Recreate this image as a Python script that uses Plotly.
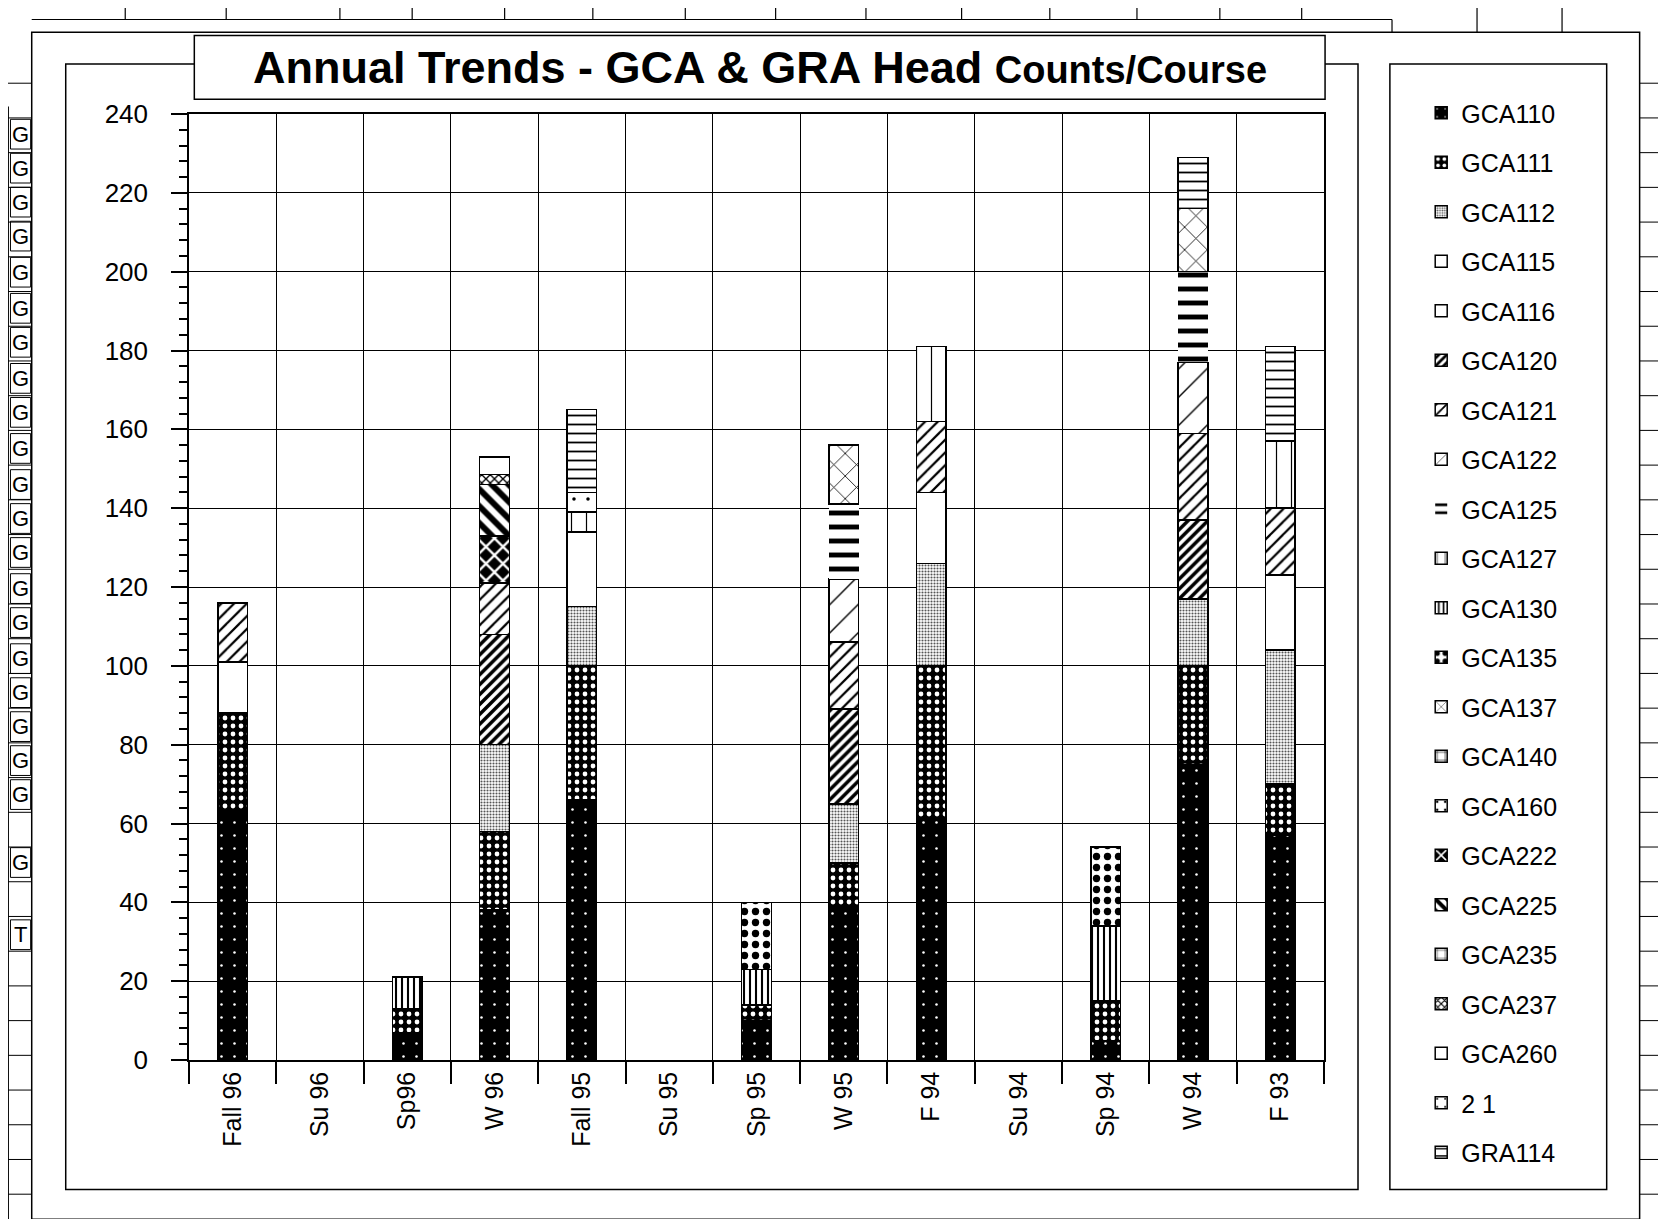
import plotly.graph_objects as go

# ---------------- DATA ----------------
categories = ["Fall 96", "Su 96", "Sp96", "W 96", "Fall 95", "Su 95", "Sp 95",
              "W 95", "F 94", "Su 94", "Sp 94", "W 94", "F 93"]
y_ticks = [0, 20, 40, 60, 80, 100, 120, 140, 160, 180, 200, 220, 240]

N = None
GCA110 = [63, N, 7, 38, 66, N, 10, 39, 61, N, 5, 75, 57]
GCA111 = [25, N, 6, 20, 34, N, 4, 11, 39, N, 10, 25, 13]
GCA112 = [N, N, N, 22, 15, N, N, 15, 26, N, N, 17, 34]
GCA115 = [N, N, N, N, N, N, N, N, N, N, N, N, N]
GCA116 = [13, N, N, N, 19, N, N, N, 18, N, N, N, 19]
GCA120 = [N, N, N, 28, N, N, N, 24, N, N, N, 20, N]
GCA121 = [15, N, N, 13, N, N, N, 17, 18, N, N, 22, 17]
GCA122 = [N, N, N, N, N, N, N, 16, N, N, N, 18, N]
GCA125 = [N, N, N, N, N, N, N, 19, N, N, N, 23, N]
GCA127 = [N, N, N, N, 5, N, N, N, 19, N, N, N, 17]
GCA130 = [N, N, 8, N, N, N, 9, N, N, N, 19, N, N]
GCA135 = [N, N, N, N, N, N, 17, N, N, N, 20, N, N]
GCA137 = [N, N, N, N, N, N, N, 15, N, N, N, 16, N]
GCA140 = [N, N, N, N, N, N, N, N, N, N, N, N, N]
GCA160 = [N, N, N, N, N, N, N, N, N, N, N, N, N]
GCA222 = [N, N, N, 12, N, N, N, N, N, N, N, N, N]
GCA225 = [N, N, N, 13, N, N, N, N, N, N, N, N, N]
GCA235 = [N, N, N, N, N, N, N, N, N, N, N, N, N]
GCA237 = [N, N, N, 2.5, N, N, N, N, N, N, N, N, N]
GCA260 = [N, N, N, 4.5, N, N, N, N, N, N, N, N, N]
C21 = [N, N, N, N, 5, N, N, N, N, N, N, N, N]
GRA114 = [N, N, N, N, 21, N, N, N, N, N, N, 13, 24]

series = [("GCA110", GCA110), ("GCA111", GCA111), ("GCA112", GCA112),
          ("GCA115", GCA115), ("GCA116", GCA116), ("GCA120", GCA120),
          ("GCA121", GCA121), ("GCA122", GCA122), ("GCA125", GCA125),
          ("GCA127", GCA127), ("GCA130", GCA130), ("GCA135", GCA135),
          ("GCA137", GCA137), ("GCA140", GCA140), ("GCA160", GCA160),
          ("GCA222", GCA222), ("GCA225", GCA225), ("GCA235", GCA235),
          ("GCA237", GCA237), ("GCA260", GCA260), ("2 1", C21),
          ("GRA114", GRA114)]

# ---------------- STYLES ----------------
# (shape, bgcolor, fgcolor, size, solidity, outline width)
styles = {
    "GCA110": (".", "black", "white", 13, 0.03, 1.5),
    "GCA111": (".", "black", "white", 8, 0.28, 1.5),
    "GCA112": (".", "white", "#555555", 3, 0.4, 1.5),
    "GCA115": ("", "white", "black", 8, 0.2, 1.5),
    "GCA116": ("", "white", "black", 8, 0.2, 1.5),
    "GCA120": ("/", "white", "black", 7, 0.5, 1.5),
    "GCA121": ("/", "white", "black", 9, 0.25, 1.5),
    "GCA122": ("/", "white", "black", 20, 0.07, 1.5),
    "GCA125": ("-", "white", "black", 14, 0.35, 0),
    "GCA127": ("|", "white", "black", 15, 0.08, 1.5),
    "GCA130": ("|", "white", "black", 6, 0.35, 1.5),
    "GCA135": (".", "white", "black", 11, 0.35, 1.5),
    "GCA137": ("x", "white", "black", 16, 0.1, 1.5),
    "GCA140": ("+", "white", "black", 10, 0.15, 1.5),
    "GCA160": (".", "white", "black", 10, 0.08, 1.5),
    "GCA222": ("x", "black", "white", 12, 0.35, 1.5),
    "GCA225": ("\\", "white", "black", 12, 0.5, 1.5),
    "GCA235": ("+", "white", "black", 12, 0.12, 1.5),
    "GCA237": ("x", "white", "black", 6, 0.4, 1.5),
    "GCA260": ("", "white", "black", 8, 0.2, 1.5),
    "2 1": (".", "white", "black", 14, 0.05, 1.5),
    "GRA114": ("-", "white", "black", 9, 0.2, 1.5),
}

FONT = "Liberation Sans, Arial, Helvetica, sans-serif"

fig = go.Figure()
for name, vals in series:
    shp, bg, fg, sz, sol, lw = styles[name]
    fig.add_trace(go.Bar(
        x=categories, y=vals, name=name, legendgroup=name, width=0.34,
        marker=dict(color=bg, line=dict(color="black", width=lw),
                    pattern=dict(shape=shp, bgcolor=bg, fgcolor=fg, size=sz,
                                 solidity=sol, fillmode="replace")),
    ))

# ---------------- LAYOUT GEOMETRY ----------------
W, H = 1650, 1211


def fx(s):  # reference (shrunk view) px -> figure px
    return s * 1.0625 - 8


L, R, T, B = fx(178), fx(1246), fx(107), fx(998)
PW, PH = R - L, B - T


def px(X):
    return (X - L) / PW


def py(Y):
    return (B - Y) / PH


shapes = []


def rect(x0, y0, x1, y1, fill="rgba(0,0,0,0)", w=1.5, layer="above"):
    shapes.append(dict(type="rect", xref="paper", yref="paper",
                       x0=px(fx(x0)), x1=px(fx(x1)), y0=py(fx(y0)), y1=py(fx(y1)),
                       line=dict(color="black", width=w), fillcolor=fill, layer=layer))


def line(x0, y0, x1, y1, w=1.2):
    shapes.append(dict(type="line", xref="paper", yref="paper",
                       x0=px(fx(x0)), x1=px(fx(x1)), y0=py(fx(y0)), y1=py(fx(y1)),
                       line=dict(color="black", width=w)))


# frames
rect(30, 30, 1543, 1148, w=1.5)
rect(62, 60, 1278, 1120, w=1.5)
rect(1308, 60, 1512, 1120, w=1.5)
rect(183, 33, 1247, 93, fill="white", w=1.5)
# spreadsheet remnants
line(30, 18, 1310, 18)
line(1310, 18, 1310, 30)
for xv in [118, 213, 320, 388, 475, 558, 645, 730, 815, 905, 988, 1070, 1148, 1225, 1390, 1470]:
    line(xv, 0, xv, 18 if xv < 1310 else 30)
    line(xv, 1148, xv, 1160)
line(8, 100, 8, 1160)
for k in range(34):
    yv = 78 + k * 32.7
    line(0, yv, 30, yv, w=1)
    line(1543, yv, 1570, yv, w=1)

annotations = []
g_rows = [126, 158, 190, 222, 256, 290, 322, 356, 388, 422, 456, 488, 520,
          554, 586, 620, 652, 684, 716, 748, 812]
for yv in g_rows:
    annotations.append(dict(xref="paper", yref="paper", x=px(fx(19)), y=py(fx(yv)),
                            text="G", showarrow=False, xanchor="center", yanchor="middle",
                            font=dict(family=FONT, size=22, color="black")))
annotations.append(dict(xref="paper", yref="paper", x=px(fx(19)), y=py(fx(880)),
                        text="T", showarrow=False, xanchor="center", yanchor="middle",
                        font=dict(family=FONT, size=22, color="black")))
for yv in g_rows + [880]:
    rect(10, yv - 14, 29, yv + 14, w=1)

# title
annotations.append(dict(
    xref="paper", yref="paper", x=px(fx(715)), y=py(fx(63)),
    xanchor="center", yanchor="middle", showarrow=False,
    text="<b>Annual Trends - GCA &amp; GRA Head <span style='font-size:38px'>Counts/Course</span></b>",
    font=dict(family="Liberation Sans Narrow, Arial Narrow, Liberation Sans, Arial", size=45, color="black")))

fig.update_layout(
    width=W, height=H,
    margin=dict(l=L, r=W - R, t=T, b=H - B, autoexpand=False),
    barmode="stack",
    paper_bgcolor="white", plot_bgcolor="white",
    font=dict(family=FONT, color="black"),
    shapes=shapes, annotations=annotations,
    showlegend=True,
    legend=dict(x=px(fx(1377)) - 42 / PW, xanchor="left",
                y=py(fx(107)) + 24 / PH, yanchor="top",
                traceorder="grouped", tracegroupgap=14, maxheight=1200,
                font=dict(family=FONT, size=25, color="black"),
                bgcolor="rgba(0,0,0,0)", borderwidth=0),
)
fig.update_yaxes(range=[0, 240], tickvals=y_ticks, ticks="outside", ticklen=16,
                 tickwidth=1.5, tickcolor="black",
                 minor=dict(dtick=4, ticks="outside", ticklen=8, tickcolor="black", showgrid=False),
                 showgrid=True, gridcolor="black", gridwidth=1.3,
                 showline=True, linecolor="black", linewidth=1.5, mirror=True,
                 zeroline=False, tickfont=dict(family=FONT, size=26), ticklabelstandoff=18)
fig.update_xaxes(type="category", tickson="boundaries", ticks="outside", ticklen=22,
                 tickwidth=1.5, tickcolor="black", tickangle=-90,
                 showgrid=True, gridcolor="black", gridwidth=1.3,
                 showline=True, linecolor="black", linewidth=1.5, mirror=True,
                 tickfont=dict(family=FONT, size=25))

fig.write_html("out.html")
